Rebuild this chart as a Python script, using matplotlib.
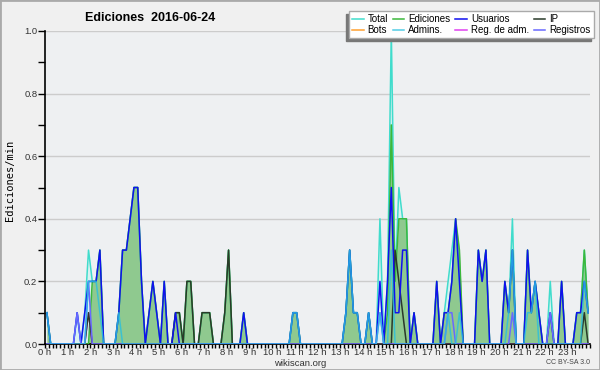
import matplotlib
matplotlib.use("Agg")
import matplotlib.pyplot as plt
import numpy as np
from matplotlib.patches import Rectangle

# edits per minute, one value per 10 minutes (12 values = 2 hours per row)
total = [
    .1, 0, 0, 0, 0, 0, 0, 0, .1, 0, .1, .3,
    .2, .2, .3, 0, 0, 0, 0, .1, .3, .3, .4, .5,
    .5, .2, 0, .1, .2, .1, 0, .2, 0, 0, .1, .1,
    0, .2, .2, 0, 0, .1, .1, .1, 0, 0, 0, .1,
    .3, 0, 0, 0, .1, 0, 0, 0, 0, 0, 0, 0,
    0, 0, 0, 0, 0, .1, .1, 0, 0, 0, 0, 0,
    0, 0, 0, 0, 0, 0, 0, .1, .3, .1, .1, 0,
    0, .1, 0, 0, .4, 0, .2, 1.0, .2, .5, .4, .4,
    0, .1, 0, 0, 0, 0, 0, .2, 0, .1, .2, .3,
    .4, .2, 0, 0, 0, 0, .3, .2, .3, 0, 0, 0,
    0, .2, .1, .4, 0, 0, 0, .3, .1, .2, .1, 0,
    0, .2, 0, 0, .2, 0, 0, 0, .1, .1, .3, .1,
]
ediciones = [
    .1, 0, 0, 0, 0, 0, 0, 0, 0, 0, 0, 0,
    .2, .2, .3, 0, 0, 0, 0, .1, .3, .3, .4, .5,
    .5, .2, 0, .1, .2, .1, 0, .2, 0, 0, .1, .1,
    0, .2, .2, 0, 0, .1, .1, .1, 0, 0, 0, .1,
    .3, 0, 0, 0, .1, 0, 0, 0, 0, 0, 0, 0,
    0, 0, 0, 0, 0, .1, .1, 0, 0, 0, 0, 0,
    0, 0, 0, 0, 0, 0, 0, .1, .3, .1, .1, 0,
    0, .1, 0, 0, 0, 0, .1, .7, .2, .4, .4, .4,
    0, .1, 0, 0, 0, 0, 0, .2, 0, .1, .1, .2,
    .4, .3, 0, 0, 0, 0, .3, .2, .3, 0, 0, 0,
    0, .2, .1, .3, 0, 0, 0, .3, .1, .2, .1, 0,
    0, .1, 0, 0, .2, 0, 0, 0, .1, .1, .3, .1,
]
usuarios = [
    .1, 0, 0, 0, 0, 0, 0, 0, .1, 0, .1, .2,
    .2, .2, .3, 0, 0, 0, 0, .1, .3, .3, .4, .5,
    .5, .2, 0, .1, .2, .1, 0, .2, 0, 0, .1, 0,
    0, 0, 0, 0, 0, 0, 0, 0, 0, 0, 0, 0,
    0, 0, 0, 0, .1, 0, 0, 0, 0, 0, 0, 0,
    0, 0, 0, 0, 0, .1, .1, 0, 0, 0, 0, 0,
    0, 0, 0, 0, 0, 0, 0, .1, .3, .1, .1, 0,
    0, .1, 0, 0, .2, 0, .2, .5, .1, .1, .3, .3,
    0, .1, 0, 0, 0, 0, 0, .2, 0, .1, .1, .2,
    .4, .2, 0, 0, 0, 0, .3, .2, .3, 0, 0, 0,
    0, .2, .1, .3, 0, 0, 0, .3, .1, .2, .1, 0,
    0, .1, 0, 0, .2, 0, 0, 0, .1, .1, .2, .1,
]
ip = [
    0, 0, 0, 0, 0, 0, 0, 0, 0, 0, 0, .1,
    0, 0, 0, 0, 0, 0, 0, 0, 0, 0, 0, 0,
    0, 0, 0, 0, 0, 0, 0, 0, 0, 0, .1, .1,
    0, .2, .2, 0, 0, .1, .1, .1, 0, 0, 0, .1,
    .3, 0, 0, 0, 0, 0, 0, 0, 0, 0, 0, 0,
    0, 0, 0, 0, 0, 0, 0, 0, 0, 0, 0, 0,
    0, 0, 0, 0, 0, 0, 0, 0, 0, 0, 0, 0,
    0, 0, 0, 0, 0, 0, 0, 0, .3, .2, .1, 0,
    0, 0, 0, 0, 0, 0, 0, 0, 0, 0, 0, 0,
    0, 0, 0, 0, 0, 0, 0, 0, 0, 0, 0, 0,
    0, 0, 0, 0, 0, 0, 0, 0, 0, 0, 0, 0,
    0, 0, 0, 0, 0, 0, 0, 0, 0, 0, .1, 0,
]
admins = [
    .1, 0, 0, 0, 0, 0, 0, 0, 0, 0, 0, .2,
    .2, .2, .1, 0, 0, 0, 0, .1, 0, 0, 0, 0,
    0, 0, 0, 0, 0, 0, 0, 0, 0, 0, 0, 0,
    0, 0, 0, 0, 0, 0, 0, 0, 0, 0, 0, 0,
    0, 0, 0, 0, 0, 0, 0, 0, 0, 0, 0, 0,
    0, 0, 0, 0, 0, .1, .1, 0, 0, 0, 0, 0,
    0, 0, 0, 0, 0, 0, 0, .1, .3, .1, .1, 0,
    0, .1, 0, 0, .1, 0, 0, .3, 0, 0, 0, 0,
    0, 0, 0, 0, 0, 0, 0, 0, 0, 0, .1, 0,
    0, .1, 0, 0, 0, 0, 0, 0, 0, 0, 0, 0,
    0, 0, .1, .3, 0, 0, 0, .1, .1, .2, 0, 0,
    0, 0, 0, 0, 0, 0, 0, 0, 0, 0, .2, .1,
]
registros = [
    0, 0, 0, 0, 0, 0, 0, 0, .1, 0, 0, .2,
    0, 0, 0, 0, 0, 0, 0, 0, 0, 0, 0, 0,
    0, 0, 0, 0, 0, 0, 0, 0, 0, 0, 0, 0,
    0, 0, 0, 0, 0, 0, 0, 0, 0, 0, 0, 0,
    0, 0, 0, 0, 0, 0, 0, 0, 0, 0, 0, 0,
    0, 0, 0, 0, 0, 0, 0, 0, 0, 0, 0, 0,
    0, 0, 0, 0, 0, 0, 0, 0, 0, 0, 0, 0,
    0, 0, 0, 0, .1, 0, 0, 0, 0, 0, 0, 0,
    0, 0, 0, 0, 0, 0, 0, 0, 0, 0, .1, .1,
    0, 0, 0, 0, 0, 0, 0, 0, 0, 0, 0, 0,
    0, 0, 0, .1, 0, 0, 0, 0, 0, 0, 0, 0,
    0, .1, 0, 0, 0, 0, 0, 0, 0, 0, 0, 0,
]
reg_adm = [
    0, 0, 0, 0, 0, 0, 0, 0, 0, 0, 0, .1,
    0, 0, 0, 0, 0, 0, 0, 0, 0, 0, 0, 0,
    0, 0, 0, 0, 0, 0, 0, 0, 0, 0, 0, 0,
    0, 0, 0, 0, 0, 0, 0, 0, 0, 0, 0, 0,
    0, 0, 0, 0, 0, 0, 0, 0, 0, 0, 0, 0,
    0, 0, 0, 0, 0, 0, 0, 0, 0, 0, 0, 0,
    0, 0, 0, 0, 0, 0, 0, 0, 0, 0, 0, 0,
    0, 0, 0, 0, 0, 0, 0, 0, 0, 0, 0, 0,
    0, 0, 0, 0, 0, 0, 0, 0, 0, 0, 0, 0,
    0, 0, 0, 0, 0, 0, 0, 0, 0, 0, 0, 0,
    0, 0, 0, 0, 0, 0, 0, 0, 0, 0, 0, 0,
    0, 0, 0, 0, 0, 0, 0, 0, 0, 0, 0, 0,
]
bots = [0] * 144

hour_labels = [f"{h} h" for h in range(24)]

# 10-minute bins plotted at their centres, in hours
t = (np.arange(len(total)) + 0.5) / 6

plt.rcParams["font.family"] = ["Liberation Sans", "DejaVu Sans"]

fig = plt.figure(figsize=(6, 3.7), dpi=100, facecolor="#f0f0f0")
ax = fig.add_axes([45 / 600, 1 - 344 / 370, 545 / 600, 313 / 370])
ax.set_facecolor("#eef0f2")

ax.fill_between(t, total, color="#d9f1f1", lw=0, zorder=1)
ax.fill_between(t, ediciones, color="#8fc98f", lw=0, zorder=2)

lw = 1.1
ax.plot(t, total, color="#40dccc", lw=lw, zorder=3, label="Total")
ax.plot(t, ediciones, color="#3cb83c", lw=lw, zorder=3, label="Ediciones")
ax.plot(t, bots, color="#ffa030", lw=lw, zorder=2.5, label="Bots")
ax.plot(t, reg_adm, color="#e040f0", lw=lw, zorder=4, label="Reg. de adm.")
ax.plot(t, ip, color="#2a3a2a", lw=lw, zorder=4, label="IP")
ax.plot(t, usuarios, color="#1010f0", lw=lw, zorder=5, label="Usuarios")
ax.plot(t, registros, color="#6868ff", lw=lw, zorder=5, label="Registros")
ax.plot(t, admins, color="#28c0e0", lw=lw, alpha=0.8, zorder=6, label="Admins.")

ax.set_xlim(0, 24)
ax.set_ylim(0, 1.0)
ax.set_xticks(range(24))
ax.set_xticklabels(hour_labels)
ax.set_xticks(np.arange(0, 24.01, 1 / 6), minor=True)
ax.set_yticks(np.arange(0, 1.01, 0.2))
ax.set_yticklabels([f"{v:.1f}" for v in np.arange(0, 1.01, 0.2)])
ax.set_yticks(np.arange(0, 1.01, 0.1), minor=True)
ax.tick_params(axis="both", which="both", direction="out", labelsize=6.8,
               labelcolor="#333333", width=1, pad=0.5)
ax.tick_params(axis="x", which="both", length=3, pad=0)
ax.tick_params(axis="y", which="both", length=5)
ax.grid(axis="y", which="major", color="#cccccc", lw=1)
ax.set_axisbelow(True)
for s in ["top", "right"]:
    ax.spines[s].set_visible(False)
for s in ["left", "bottom"]:
    ax.spines[s].set_linewidth(1.2)

fig.text(10 / 600, 1 - 180 / 370, "Ediciones/min", rotation=90, ha="center",
         va="center", fontsize=7.5, family="DejaVu Sans Mono")
fig.text(85 / 600, 1 - 18 / 370, "Ediciones  2016-06-24", ha="left",
         va="center", fontsize=9, weight="bold")
fig.text(300 / 600, 1 - 364 / 370, "wikiscan.org", ha="center", va="center",
         fontsize=6.8, color="#333333")
fig.text(590 / 600, 1 - 363 / 370, "CC BY-SA 3.0", ha="right", va="center",
         fontsize=5, color="#444444")

# legend order fills columns: Total/Bots, Ediciones/Admins., ...
h, l = ax.get_legend_handles_labels()
order = ["Total", "Bots", "Ediciones", "Admins.", "Usuarios", "Reg. de adm.",
         "IP", "Registros"]
hd = dict(zip(l, h))
leg = fig.legend([hd[k] for k in order], order, ncol=4, loc="upper left",
                 bbox_to_anchor=(349 / 600, 1 - 11 / 370), fontsize=7,
                 frameon=True, fancybox=False, edgecolor="#aaaaaa",
                 framealpha=1, handlelength=1.2, handletextpad=0.4,
                 columnspacing=0.5, labelspacing=0.15, borderpad=0.3,
                 borderaxespad=0)
leg.set_zorder(10)

fig.canvas.draw()
bb = leg.get_frame().get_window_extent().transformed(fig.transFigure.inverted())
fig.patches.append(Rectangle((bb.x0 - 3 / 600, bb.y0 - 3 / 370), bb.width,
                             bb.height, transform=fig.transFigure,
                             color="#777777", zorder=9))
fig.patches.append(Rectangle((0, 0), 1, 1, transform=fig.transFigure,
                             fill=False, edgecolor="#aaaaaa", lw=2, zorder=20))

fig.savefig("out.png", dpi=100, facecolor=fig.get_facecolor())
